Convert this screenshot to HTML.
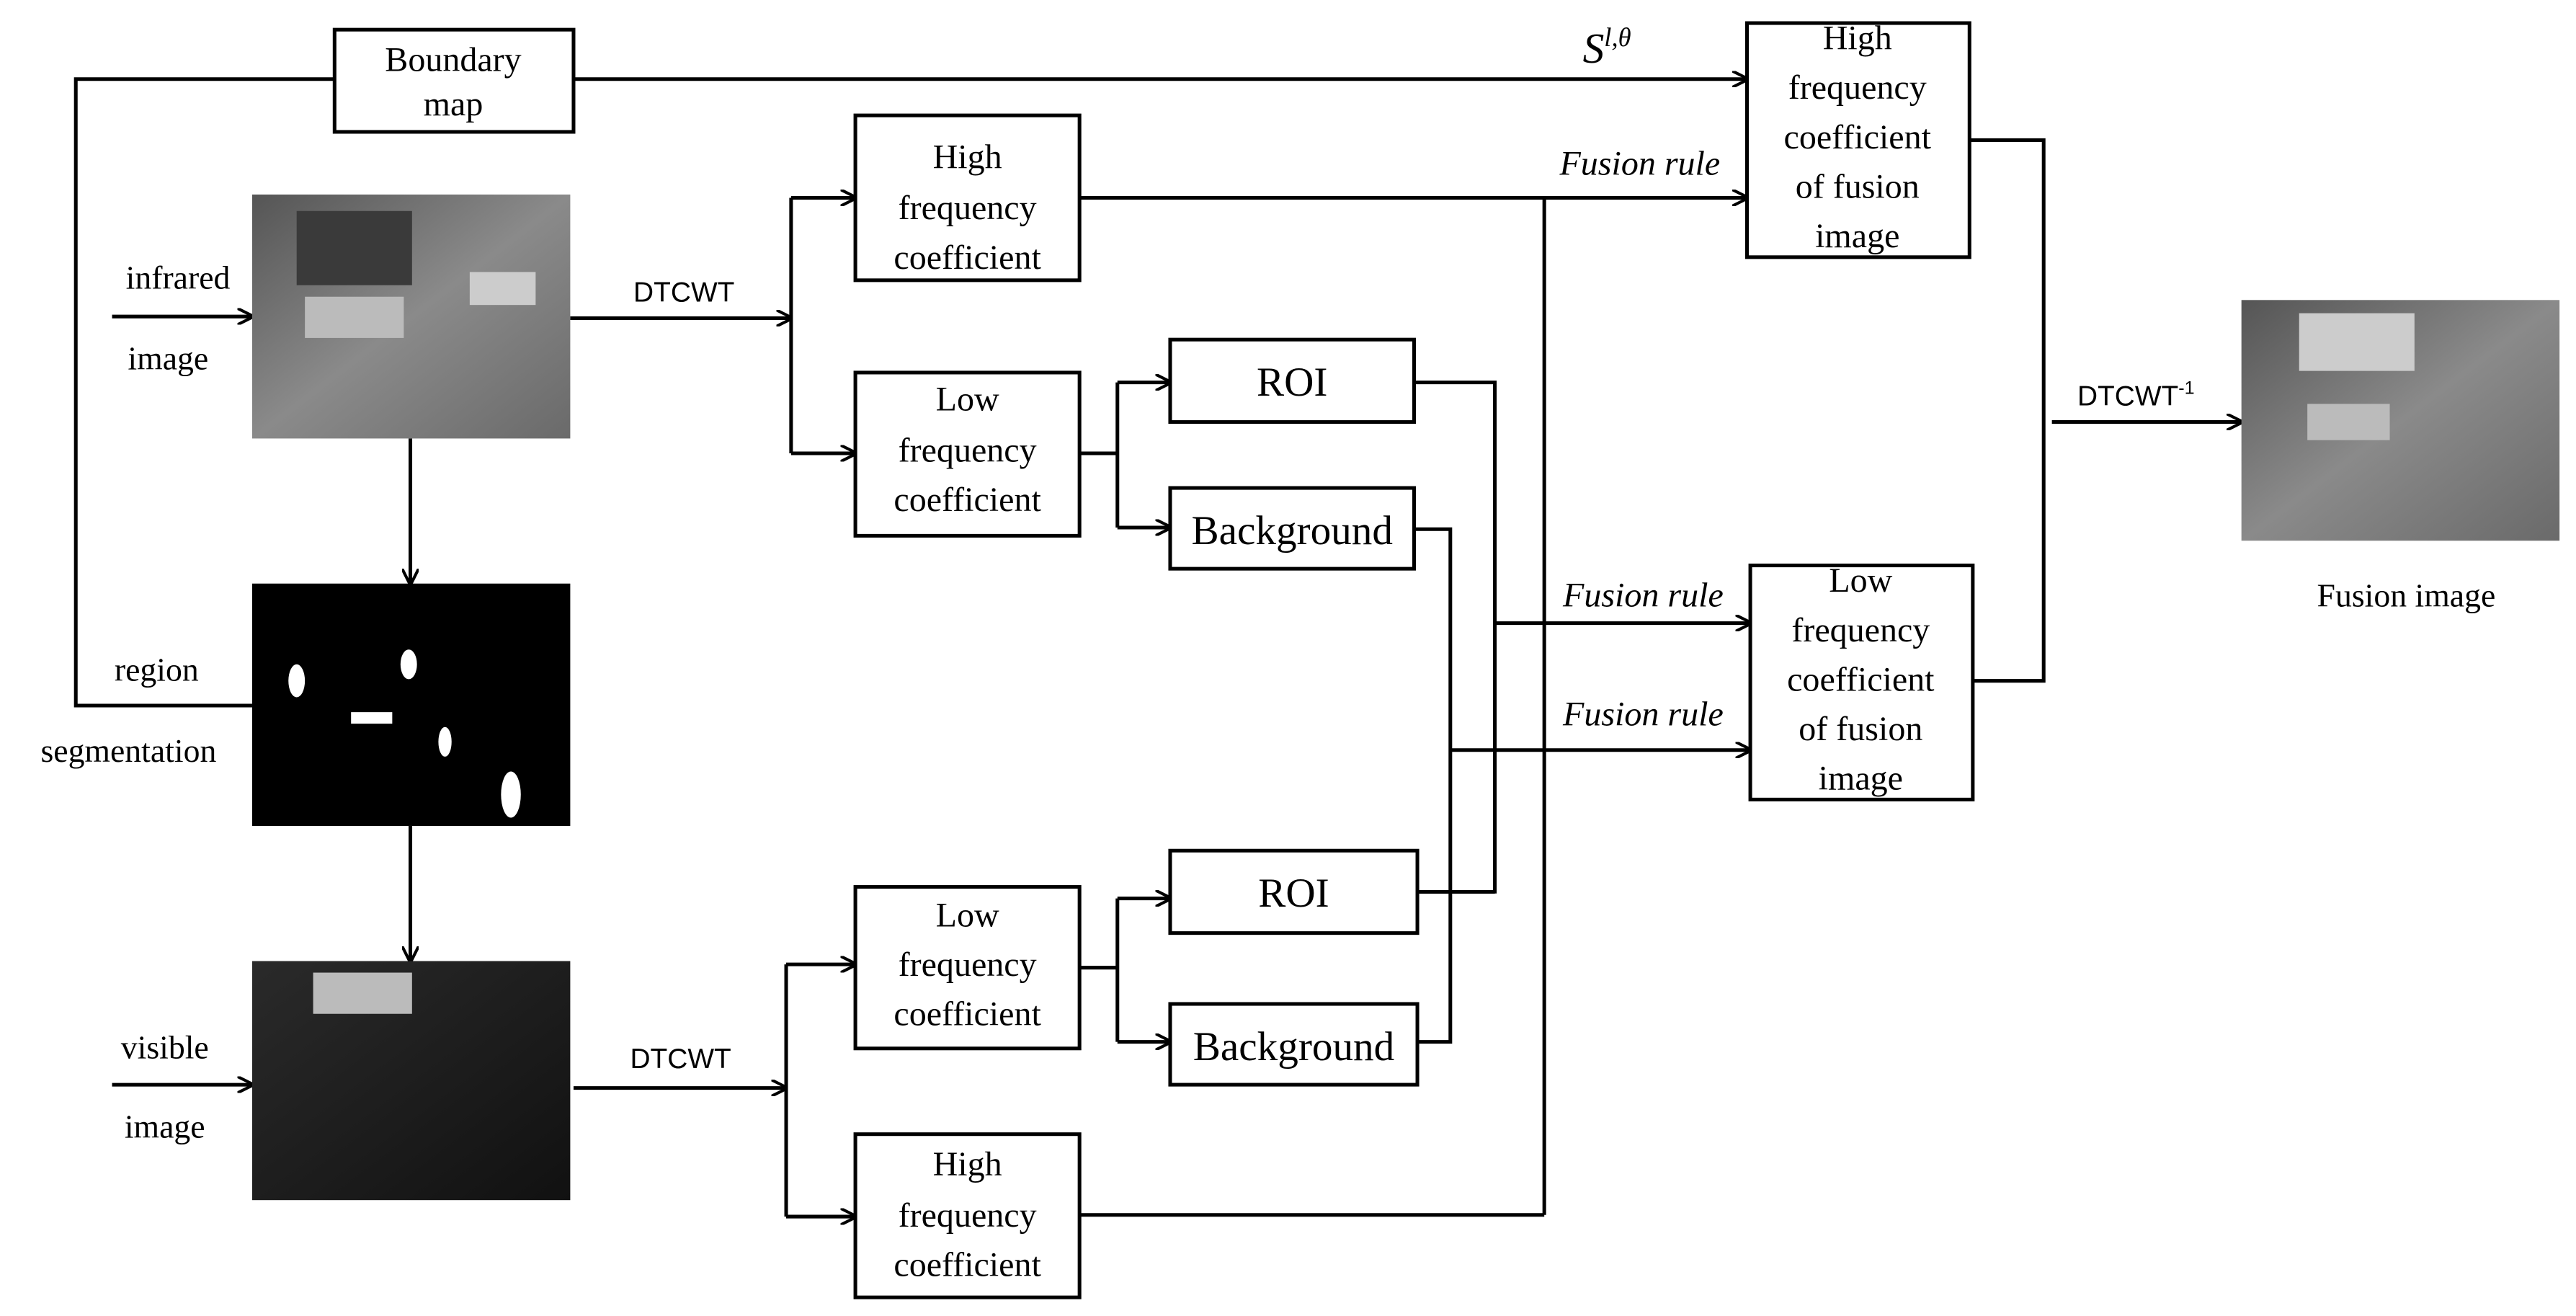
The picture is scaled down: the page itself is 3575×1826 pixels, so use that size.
<!DOCTYPE html>
<html><head><meta charset="utf-8"><style>
html,body{margin:0;padding:0;background:#fff;}
svg{display:block;}
text{font-family:"Liberation Serif",serif;fill:#000;}
</style></head><body>
<svg width="3575" height="1826" viewBox="0 0 1563 798.3" preserveAspectRatio="none" xmlns="http://www.w3.org/2000/svg">
<defs>
<marker id="a" markerWidth="10" markerHeight="10" refX="9" refY="5" orient="auto" markerUnits="userSpaceOnUse">
<path d="M0,0 L10,5 L0,10" fill="none" stroke="#000" stroke-width="1.8"/></marker>
<linearGradient id="ir" x1="0" y1="0" x2="1" y2="1"><stop offset="0" stop-color="#555"/><stop offset="0.5" stop-color="#8a8a8a"/><stop offset="1" stop-color="#6a6a6a"/></linearGradient>
<linearGradient id="vi" x1="0" y1="0" x2="1" y2="1"><stop offset="0" stop-color="#2a2a2a"/><stop offset="1" stop-color="#111"/></linearGradient>
</defs>
<g fill="none" stroke="#000" stroke-width="2.2">
<!-- boxes -->
<rect x="203" y="18" width="145" height="62"/>
<rect x="1060" y="14" width="135" height="142"/>
<rect x="519" y="70" width="136" height="100"/>
<rect x="519" y="226" width="136" height="99"/>
<rect x="710" y="206" width="148" height="50"/>
<rect x="710" y="296" width="148" height="49"/>
<rect x="1062" y="343" width="135" height="142"/>
<rect x="519" y="538" width="136" height="98"/>
<rect x="519" y="688" width="136" height="99"/>
<rect x="710" y="516" width="150" height="50"/>
<rect x="710" y="609" width="150" height="49"/>
<!-- lines -->
<polyline points="203,48 46,48 46,428 153,428"/>
<line x1="348" y1="48" x2="1060" y2="48" marker-end="url(#a)"/>
<line x1="68" y1="192" x2="153" y2="192" marker-end="url(#a)"/>
<line x1="346" y1="193" x2="480" y2="193" marker-end="url(#a)"/>
<line x1="480" y1="120" x2="480" y2="275"/>
<line x1="480" y1="120" x2="519" y2="120" marker-end="url(#a)"/>
<line x1="480" y1="275" x2="519" y2="275" marker-end="url(#a)"/>
<line x1="655" y1="275" x2="678" y2="275"/>
<line x1="678" y1="232" x2="678" y2="320"/>
<line x1="678" y1="232" x2="710" y2="232" marker-end="url(#a)"/>
<line x1="678" y1="320" x2="710" y2="320" marker-end="url(#a)"/>
<line x1="655" y1="120" x2="1060" y2="120" marker-end="url(#a)"/>
<line x1="937" y1="120" x2="937" y2="737"/>
<line x1="655" y1="737" x2="937" y2="737"/>
<polyline points="858,232 907,232 907,542"/>
<line x1="860" y1="541" x2="907" y2="541"/>
<polyline points="858,321 880,321 880,632 860,632"/>
<line x1="907" y1="378" x2="1062" y2="378" marker-end="url(#a)"/>
<line x1="880" y1="455" x2="1062" y2="455" marker-end="url(#a)"/>
<polyline points="1195,85 1240,85 1240,413 1197,413"/>
<line x1="1245" y1="256" x2="1360" y2="256" marker-end="url(#a)"/>
<line x1="249" y1="266" x2="249" y2="354" marker-end="url(#a)"/>
<line x1="249" y1="501" x2="249" y2="583" marker-end="url(#a)"/>
<line x1="68" y1="658" x2="153" y2="658" marker-end="url(#a)"/>
<line x1="348" y1="660" x2="477" y2="660" marker-end="url(#a)"/>
<line x1="477" y1="585" x2="477" y2="738"/>
<line x1="477" y1="585" x2="519" y2="585" marker-end="url(#a)"/>
<line x1="477" y1="738" x2="519" y2="738" marker-end="url(#a)"/>
<line x1="655" y1="587" x2="678" y2="587"/>
<line x1="678" y1="545" x2="678" y2="632"/>
<line x1="678" y1="545" x2="710" y2="545" marker-end="url(#a)"/>
<line x1="678" y1="632" x2="710" y2="632" marker-end="url(#a)"/>
</g>
<!-- images -->
<rect x="153" y="118" width="193" height="148" fill="url(#ir)"/>
<rect x="180" y="128" width="70" height="45" fill="#3a3a3a"/>
<rect x="185" y="180" width="60" height="25" fill="#bbb"/>
<rect x="285" y="165" width="40" height="20" fill="#ccc"/>
<rect x="153" y="354" width="193" height="147" fill="#000"/>
<g fill="#fff"><ellipse cx="180" cy="413" rx="5" ry="10"/><rect x="213" y="432" width="25" height="7"/><ellipse cx="248" cy="403" rx="5" ry="9"/><ellipse cx="270" cy="450" rx="4" ry="9"/><ellipse cx="310" cy="482" rx="6" ry="14"/></g>
<rect x="153" y="583" width="193" height="145" fill="url(#vi)"/>
<rect x="190" y="590" width="60" height="25" fill="#bbb"/>
<rect x="1360" y="182" width="193" height="146" fill="url(#ir)"/>
<rect x="1395" y="190" width="70" height="35" fill="#ccc"/>
<rect x="1400" y="245" width="50" height="22" fill="#bbb"/>
<!-- text -->
<g font-size="21" text-anchor="middle">
<text x="275" y="43">Boundary</text><text x="275" y="70">map</text>
<text x="1127" y="30">High</text><text x="1127" y="60">frequency</text><text x="1127" y="90">coefficient</text><text x="1127" y="120">of fusion</text><text x="1127" y="150">image</text>
<text x="1129" y="359">Low</text><text x="1129" y="389">frequency</text><text x="1129" y="419">coefficient</text><text x="1129" y="449">of fusion</text><text x="1129" y="479">image</text>
<text x="587" y="102">High</text><text x="587" y="133">frequency</text><text x="587" y="163">coefficient</text>
<text x="587" y="249">Low</text><text x="587" y="280">frequency</text><text x="587" y="310">coefficient</text>
<text x="587" y="562">Low</text><text x="587" y="592">frequency</text><text x="587" y="622">coefficient</text>
<text x="587" y="713">High</text><text x="587" y="744">frequency</text><text x="587" y="774">coefficient</text>
</g>
<g font-size="25" text-anchor="middle">
<text x="784" y="240">ROI</text><text x="784" y="330">Background</text>
<text x="785" y="550">ROI</text><text x="785" y="643">Background</text>
</g>
<g font-size="20" text-anchor="middle">
<text x="108" y="175">infrared</text><text x="102" y="224">image</text>
<text x="95" y="413">region</text><text x="78" y="462">segmentation</text>
<text x="100" y="642">visible</text><text x="100" y="690">image</text>
<text x="1460" y="368">Fusion image</text>
</g>
<g font-size="17" font-family="Liberation Sans" text-anchor="middle">
<text x="415" y="183" style="font-family:'Liberation Sans',sans-serif">DTCWT</text>
<text x="413" y="648" style="font-family:'Liberation Sans',sans-serif">DTCWT</text>
<text x="1296" y="246" style="font-family:'Liberation Sans',sans-serif">DTCWT<tspan font-size="11" dy="-7">-1</tspan></text>
</g>
<g font-size="21" font-style="italic" text-anchor="middle">
<text x="995" y="106">Fusion rule</text>
<text x="997" y="368">Fusion rule</text>
<text x="997" y="440">Fusion rule</text>
<text x="975" y="38" font-size="26">S<tspan font-size="16" dy="-10">l,θ</tspan></text>
</g>
</svg>
</body></html>
